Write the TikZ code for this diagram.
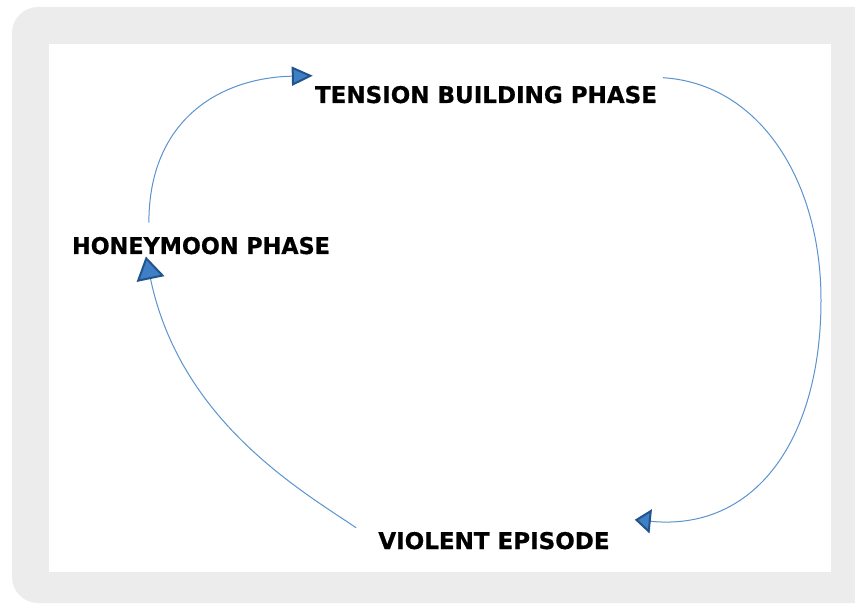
\documentclass[tikz,border=0pt]{standalone}
\usepackage{fontspec}
\setmainfont{DejaVu Sans}[BoldFeatures={FakeBold=0.6}]
\usetikzlibrary{arrows.meta,calc}
\definecolor{framegrey}{HTML}{ECECEC}
\definecolor{cycleline}{HTML}{5B93CC}
\definecolor{tipfill}{HTML}{3F7FC6}
\definecolor{tipedge}{HTML}{22548C}
\tikzset{
  phase/.style={font=\bfseries\fontsize{23}{27}\selectfont, inner sep=0pt, anchor=base},
  cycle/.style={draw=cycleline, line width=1pt},
  tip/.style n args={2}{-{Triangle[length=#1pt,width=#2pt,line width=2pt,color=tipedge,fill=tipfill]}}
}
\begin{document}
\begin{tikzpicture}[x=1pt,y=-1pt]
  \useasboundingbox (0,0) rectangle (855,604);
  % frame
  \fill[framegrey, rounded corners=26pt] (12,7) rectangle (880,603);
  \fill[white] (49,44) rectangle (831,572);

  % phases
  \node[phase] (tension) at (486,103) {TENSION BUILDING PHASE};
  \node[phase, xscale=0.97] (honey) at (201,254) {HONEYMOON PHASE};
  \node[phase] (violent) at (494,549) {VIOLENT EPISODE};

  % end points of the connectors
  \coordinate (hstart) at ([shift={(77,-14)}]honey.north west);
  \coordinate (tin)    at ([shift={(-2,-10)}]tension.north west);
  \coordinate (tout)   at ([shift={(6,-8)}]tension.north east);
  \coordinate (vin)    at ([shift={(25,-12)}]violent.north east);
  \coordinate (vout)   at ([shift={(-22,-4)}]violent.north west);
  \coordinate (hin)    at ([shift={(74,2)}]honey.south west);

  % honeymoon -> tension
  \draw[cycle, tip={21}{19}] (hstart) .. controls ($(hstart)+(0,-103)$) and ($(tin)+(-93,2)$) .. (tin);
  % tension -> violent
  \draw[cycle, tip={16}{24}] (tout) .. controls ($(tout)+(96,6)$) and (821,180) .. (821,300)
     .. controls (821,440) and ($(vin)+(120,12)$) .. (vin);
  % violent -> honeymoon
  \draw[cycle, tip={23}{28}] (vout) .. controls (300,490) and (180,420) .. (hin);
\end{tikzpicture}
\end{document}
